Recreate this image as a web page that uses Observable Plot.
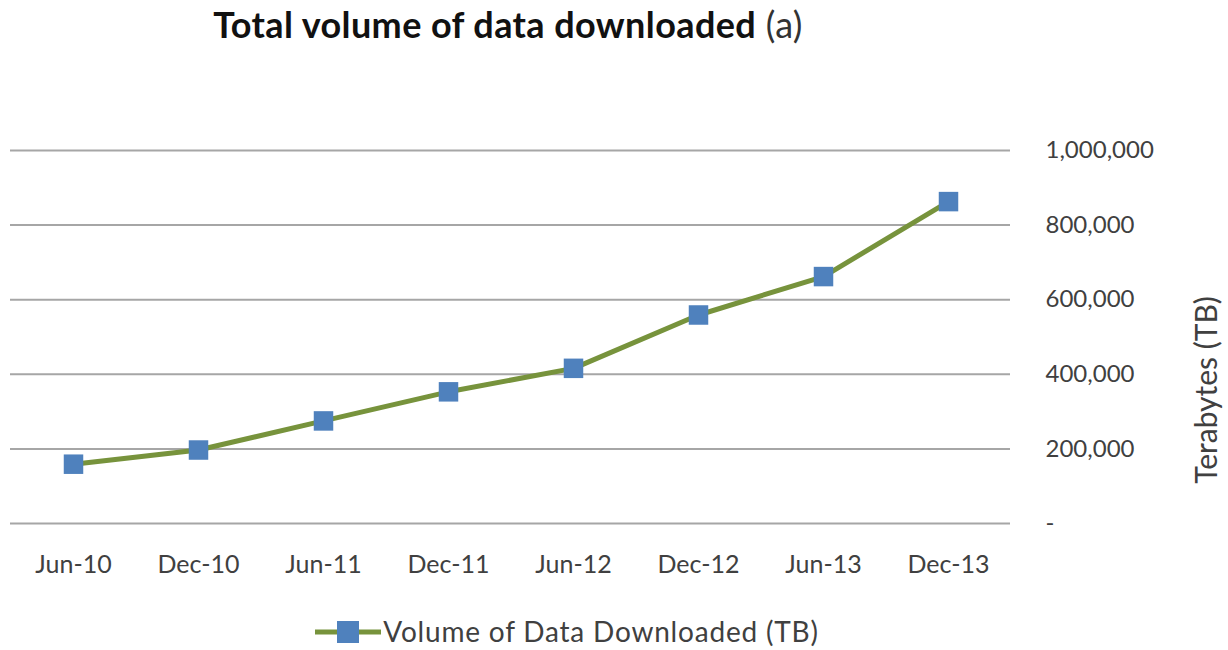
<!DOCTYPE html>
<html>
<head>
<meta charset="utf-8">
<script src="https://cdn.jsdelivr.net/npm/d3@7"></script>
<script src="https://cdn.jsdelivr.net/npm/@observablehq/plot@0.6"></script>
<style>
  html, body { margin: 0; padding: 0; background: #fff; }
  body { width: 1228px; height: 650px; overflow: hidden; font-family: Lato, "Open Sans", sans-serif; }
  #title { width: 1016px; height: 50px; text-align: center; font-size: 36px; line-height: 44px; padding-top: 2px; box-sizing: border-box; color: #111; white-space: nowrap; letter-spacing: 0.4px; }
  #title b { font-weight: 700; }
  #title span { font-weight: 400; color: #333; }
  #chart { height: 560px; }
  #legend { width: 1134px; height: 40px; text-align: center; font-size: 28px; color: #404040; line-height: 36px; padding-top: 3px; box-sizing: border-box; white-space: nowrap; letter-spacing: 0.8px; }
  #legend svg { vertical-align: middle; margin-right: 2px; position: relative; top: -3px; }
</style>
</head>
<body>
<div id="title"><b>Total volume of data downloaded</b> <span>(a)</span></div>
<div id="chart"></div>
<div id="legend"></div>
<script>
const periods = ["Jun-10", "Dec-10", "Jun-11", "Dec-11", "Jun-12", "Dec-12", "Jun-13", "Dec-13"];
const volumeTB = [159000, 197000, 275000, 353000, 416000, 559000, 662000, 863000];
const yTicks = [0, 200000, 400000, 600000, 800000, 1000000];
const seriesName = "Volume of Data Downloaded (TB)";
const yLabel = "Terabytes (TB)";

const lineColor = "#77933C";
const markerColor = "#4F81BD";

const data = periods.map((p, i) => ({period: p, value: volumeTB[i]}));
const fmt = d3.format(",");

const plot = Plot.plot({
  width: 1228,
  height: 560,
  marginLeft: 10,
  marginRight: 218,
  marginTop: 100,
  marginBottom: 87,
  style: {fontFamily: "Lato, 'Open Sans', sans-serif", fontSize: "24px", color: "#404040", background: "#fff"},
  x: {type: "point", domain: periods, padding: 0.5},
  y: {domain: [0, 1000000]},
  marks: [
    Plot.gridY(yTicks, {stroke: "#A6A6A6", strokeOpacity: 1, strokeWidth: 2}),
    Plot.axisX({tickSize: 0, tickPadding: 32, label: null, fontSize: 25}),
    Plot.axisY(yTicks, {anchor: "right", tickSize: 0, tickPadding: 35, textAnchor: "start", label: null, fontSize: 24,
      tickFormat: d => d === 0 ? "-" : fmt(d)}),
    Plot.line(data, {x: "period", y: "value", stroke: lineColor, strokeWidth: 5}),
    Plot.dot(data, {x: "period", y: "value", symbol: "square", r: 11, fill: markerColor, stroke: null}),
    Plot.text([yLabel], {frameAnchor: "right", text: d => d, rotate: -90, textAnchor: "middle", dx: 197, dy: 53, fontSize: 30, fill: "#404040"})
  ]
});
document.getElementById("chart").appendChild(plot);

const legend = document.getElementById("legend");
const sw = d3.create("svg").attr("width", 66).attr("height", 24);
sw.append("line").attr("x1", 0).attr("x2", 66).attr("y1", 12).attr("y2", 12).attr("stroke", lineColor).attr("stroke-width", 5);
sw.append("rect").attr("x", 22).attr("y", 1).attr("width", 22).attr("height", 22).attr("fill", markerColor);
legend.appendChild(sw.node());
legend.appendChild(document.createTextNode(seriesName));
</script>
</body>
</html>
